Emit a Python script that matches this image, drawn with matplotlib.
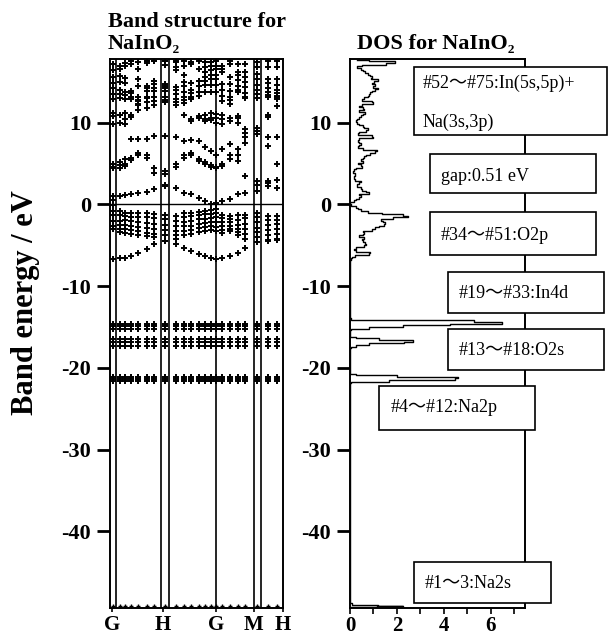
import numpy as np
import matplotlib
matplotlib.use('Agg')
import matplotlib.pyplot as plt
from matplotlib.patches import Rectangle

nan = float('nan')

# ---------------- data ----------------
k_points = [0.017, 0.058, 0.087, 0.121, 0.162, 0.214, 0.254, 0.318, 0.382, 0.428, 0.468,
            0.514, 0.549, 0.584, 0.613, 0.647, 0.694, 0.740, 0.780, 0.850, 0.913, 0.965]
k_labels = ['G', 'H', 'G', 'M', 'H']
k_label_pos = [0.012, 0.306, 0.613, 0.832, 1.0]
k_lines = [0.035, 0.295, 0.341, 0.613, 0.832, 0.873]

cb1 = [0.6, 1.0, 1.2, 1.3, 1.4, 1.5, 1.9, 2.3, 2.0, 1.4, 1.3, 0.8, 0.4, 0.1, 0.2, 0.45, 0.7, 1.3, 1.4, 1.6, 2.2, 2.0]
cb2 = [4.6, 4.8, 5.0, 5.7, 6.3, 6.0, 4.5, 4.1, 5.0, 6.0, 6.3, 5.6, 5.0, 4.8, 4.6, 5.0, 6.0, 6.0, 7.5, 8.6, 7.2, 5.0]
cb3 = [5.0, 5.2, 5.5, 8.0, 8.0, 8.0, 8.4, 8.4, 8.2, 7.8, 7.9, 7.8, 7.0, 6.5, 6.0, 6.8, 7.4, 6.8, 8.2, 9.0, 8.3, 8.2]
cb4 = [4.4, 4.5, 4.7, 5.4, 6.0, 5.7, 3.9, 3.7, 4.6, 5.7, 6.0, 5.3, 5.2, 4.6, 4.4, 4.7, 5.6, 5.3, 3.5, 2.9, 2.6, 3.0]
cb5 = [1.0, nan, nan, nan, nan, nan, nan, 2.4, nan, nan, nan, nan, nan, nan, nan, nan, nan, nan, nan, 2.4, 2.9, nan]

ub1 = [9.8, 10.0, 9.8, 10.7, 11.5, 11.8, 12.2, 12.5, 12.2, 11.0, 10.4, 10.8, 10.5, 10.3, 10.0, 9.8, 10.2, 10.0, 9.2, 9.0, 10.9, 12.1]
ub2 = [10.8, 11.0, 10.5, 10.9, 12.3, 12.5, 12.6, 12.8, 12.5, 12.4, 10.2, 10.6, 10.2, 10.6, 10.6, 10.4, 10.6, 10.6, 8.8, 9.3, 10.7, 12.9]
ub3 = [11.2, 11.0, 11.2, 12.9, 12.6, 13.0, 13.2, 13.2, 12.9, 12.8, 12.9, 13.3, 11.0, 11.2, 11.1, 11.0, 12.3, 10.8, 13.0, 13.0, 13.1, 13.2]
ub4 = [12.9, 13.0, 12.9, 13.2, 13.1, 13.9, 13.9, 13.9, 13.5, 13.2, 13.2, 13.8, 13.8, 13.8, 13.7, 12.6, 12.8, 13.8, 13.2, 13.5, 13.4, 13.3]
ub5 = [13.5, 13.5, 13.4, 13.6, 12.2, 14.5, 14.2, 14.2, 14.0, 13.7, 13.6, 14.5, 14.6, 14.6, 14.6, 13.3, 13.1, 14.0, 13.6, 14.0, 13.8, 13.6]
ub6 = [14.2, 14.0, 13.8, 13.9, 12.8, 13.2, 14.7, 14.7, 14.4, 14.5, 14.0, 15.1, 15.1, 15.3, 15.4, 14.0, 13.9, 14.5, 14.4, 14.6, 14.3, 14.0]
ub7 = [14.9, 15.0, 14.9, 17.2, 14.5, 14.2, 15.1, 14.5, 16.4, 15.0, 14.9, 14.5, 15.6, 15.8, 15.8, 14.7, 14.8, 15.2, 15.0, 15.3, 14.9, 14.6]
ub8 = [15.6, 15.7, 15.5, 17.6, 15.4, 17.3, 15.1, 17.1, 16.8, 15.8, 14.9, 15.1, 16.2, 16.4, 16.6, 16.2, 15.6, 15.8, 15.6, 16.0, 15.4, 15.4]
ub9 = [16.4, 16.6, 16.9, 17.6, 16.6, 17.6, 17.6, 17.5, 17.4, 17.0, 17.2, 16.6, 16.8, 16.9, 17.0, 16.6, 17.2, 16.2, 16.2, 16.8, 16.8, 16.8]
ub10 = [17.2, 17.0, 17.3, 17.6, 17.4, 17.6, 17.6, 17.6, 17.6, 17.6, 17.4, 17.6, 17.4, 17.4, 17.5, 17.0, 17.6, 17.2, 17.2, 17.4, 17.6, 17.6]

vb1 = [-0.1, -0.8, -1.0, -1.0, -1.0, -1.0, -1.2, -1.3, -1.4, -1.1, -1.0, -0.9, -0.8, -0.7, -0.5, -1.3, -1.4, -1.3, -1.3, -1.1, -1.4, -1.4]
vb2 = [-0.8, -1.3, -1.4, -1.5, -1.6, -1.5, -1.7, -1.8, -2.0, -1.5, -1.4, -1.3, -1.2, -1.2, -1.0, -1.7, -1.8, -1.9, -1.7, -1.6, -1.9, -1.9]
vb3 = [-1.3, -2.0, -1.9, -2.0, -2.2, -2.3, -2.4, -2.5, -2.6, -2.2, -2.0, -1.8, -1.8, -1.7, -1.6, -2.2, -2.2, -2.5, -2.4, -2.2, -2.5, -2.4]
vb4 = [-2.0, -2.5, -2.5, -2.6, -2.8, -2.9, -3.0, -3.1, -3.2, -2.7, -2.6, -2.4, -2.3, -2.2, -2.2, -2.7, -2.6, -3.0, -3.0, -2.9, -3.1, -3.0]
vb5 = [-2.6, -3.0, -3.0, -3.1, -3.3, -3.5, -3.6, -3.7, -3.8, -3.3, -3.1, -2.9, -2.8, -2.7, -2.8, -3.1, -3.0, -3.4, -3.6, -3.4, -3.7, -3.6]
vb6 = [-3.0, -3.4, -3.5, -3.6, -3.8, -3.9, -4.0, -4.5, -4.2, -3.8, -3.6, -3.4, -3.2, -3.1, -3.2, -3.5, -3.3, -3.8, -4.2, -4.0, -4.3, -4.2]
vb7 = [-6.7, -6.6, -6.5, -6.3, -6.0, -5.5, -4.8, -4.5, -4.8, -5.3, -5.7, -6.1, -6.3, -6.5, -6.7, -6.5, -6.3, -5.9, -5.3, -4.6, -4.5, -4.3]

core_levels = [-14.6, -14.9, -15.2, -16.5, -16.9, -17.3, -21.1, -21.4, -21.6]
na2s_level = -49.2

dos_energy = [17.7, 17.5, 17.3, 17.1, 16.9, 16.7, 16.5, 16.3, 16.1, 15.9, 15.7, 15.5, 15.3, 15.1,
              14.9, 14.7, 14.5, 14.3, 14.1, 13.9, 13.7, 13.5, 13.3, 13.1, 12.9, 12.7, 12.5, 12.3,
              12.1, 11.9, 11.7, 11.5, 11.3, 11.1, 10.9, 10.7, 10.5, 10.3, 10.1, 9.9, 9.7, 9.5,
              9.3, 9.1, 8.9, 8.7, 8.5, 8.3, 8.1, 7.9, 7.7, 7.5, 7.3, 7.1, 6.9, 6.7, 6.5, 6.3,
              6.1, 5.9, 5.7, 5.5, 5.3, 5.1, 4.9, 4.7, 4.5, 4.3, 4.1, 3.9, 3.7, 3.5, 3.3, 3.1,
              2.9, 2.7, 2.5, 2.3, 2.1, 1.9, 1.7, 1.5, 1.3, 1.1, 0.9, 0.7, 0.5, 0.3, 0.0,
              -0.2, -0.4, -0.6, -0.8, -1.0, -1.2, -1.4, -1.6, -1.8, -2.0, -2.2, -2.4, -2.6,
              -2.8, -3.0, -3.2, -3.4, -3.6, -3.8, -4.0, -4.2, -4.4, -4.6, -4.8, -5.0, -5.2,
              -5.4, -5.6, -5.8, -6.0, -6.2, -6.4, -6.6, -6.8,
              -13.9, -14.1, -14.2, -14.4, -14.6, -14.8, -15.0, -15.2, -15.4,
              -16.2, -16.4, -16.6, -16.8, -17.0, -17.2, -17.4, -17.6,
              -20.7, -20.9, -21.1, -21.3, -21.5, -21.7, -21.9,
              -48.8, -49.0, -49.1, -49.2, -49.3]
dos_value = [0.3, 1.3, 2.5, 0.6, 0.4, 0.2, 0.7, 0.4, 0.9, 0.6, 1.1, 0.8, 1.0, 1.35,
             0.7, 1.2, 0.9, 1.1, 1.3, 0.8, 1.1, 0.6, 1.0, 0.5, 0.7, 0.3, 1.6, 0.4,
             0.6, 0.2, 0.9, 0.3, 0.5, 0.8, 0.3, 0.6, 0.2, 0.4, 0.1, 0.5, 0.3, 0.8,
             0.4, 1.1, 0.3, 0.5, 0.2, 1.7, 0.3, 0.5, 0.2, 0.6, 0.3, 0.5, 0.2, 0.9, 1.4, 0.7,
             1.0, 0.4, 0.8, 0.3, 0.6, 0.5, 0.2, 0.7, 0.3, 0.2, 0.1, 0.15, 0.3, 0.1, 0.2, 0.1,
             0.3, 0.6, 0.2, 0.4, 0.2, 0.7, 0.3, 1.1, 0.5, 0.3, 0.6, 0.2, 0.3, 0.0, 0.0,
             0.1, 0.4, 0.3, 0.6, 0.9, 1.8, 2.7, 2.2, 1.5, 1.1, 1.7, 1.3, 1.6,
             0.9, 1.2, 0.7, 0.4, 0.8, 0.3, 0.5, 0.7, 0.3, 0.8, 0.5, 0.9, 0.3,
             0.2, 0.1, 0.4, 1.3, 0.3, 0.1, 0.05, 0.0,
             0.0, 0.1, 3.2, 7.4, 5.5, 3.0, 1.5, 0.1, 0.0,
             0.0, 0.5, 2.0, 3.4, 1.2, 0.4, 0.1, 0.0,
             0.0, 0.5, 3.5, 5.7, 3.2, 0.1, 0.0,
             0.0, 0.2, 2.2, 2.3, 0.0]

box_texts = [['#52～#75:In(5s,5p)+', 'Na(3s,3p)'], ['gap:0.51 eV'], ['#34～#51:O2p'],
             ['#19～#33:In4d'], ['#13～#18:O2s'], ['#4～#12:Na2p'], ['#1～3:Na2s']]

y_ticks = [10, 0, -10, -20, -30, -40]
y_tick_labels = ['10', '0', '-10', '-20', '-30', '-40']
dos_ticks = [0, 1, 2, 3, 4, 5, 6, 7]
dos_tick_labels = ['0', '', '2', '', '4', '', '6', '']

# ---------------- layout ----------------
W, H = 610, 637
plt.rcParams['font.family'] = ['Liberation Serif', 'DejaVu Serif']
fig = plt.figure(figsize=(W / 100, H / 100), dpi=100)

def fx(px):
    return px / W

def fy(py):
    return 1 - py / H

ax1 = fig.add_axes([fx(110), fy(608), fx(283) - fx(110), fy(59) - fy(608)])
ax2 = fig.add_axes([fx(350), fy(608), fx(525) - fx(350), fy(59) - fy(608)])

ylim = (-49.4, 17.8)
tick_font = dict(fontsize=16, fontweight='bold')

# band structure panel
bands = [cb1, cb2, cb3, cb4, cb5, ub1, ub2, ub3, ub4, ub5, ub6, ub7, ub8, ub9, ub10,
         vb1, vb2, vb3, vb4, vb5, vb6, vb7]
for b in bands:
    ax1.plot(k_points, b, linestyle='none', marker='+', color='k', ms=5, mew=1.4)
for lev in core_levels:
    ax1.plot(k_points, [lev] * len(k_points), linestyle='none', marker='+', color='k', ms=5, mew=1.4)
ax1.plot(k_points, [na2s_level] * len(k_points), linestyle='none', marker='+', color='k', ms=2.5, mew=1.0)
for xl in k_lines:
    ax1.axvline(xl, color='k', lw=1.2)
ax1.axhline(0, color='k', lw=1.0)
ax1.set_xlim(0, 1)
ax1.set_ylim(*ylim)
ax1.set_xticks(k_label_pos)
ax1.set_xticklabels(k_labels, fontsize=15, fontweight='bold')
ax1.tick_params(axis='x', direction='out', length=3, width=1.2, pad=2)

# DOS panel
ax2.plot(dos_value, dos_energy, color='k', lw=1.0, drawstyle='steps-mid')
ax2.set_xlim(0, 7.45)
ax2.set_ylim(*ylim)
ax2.set_xticks(dos_ticks)
ax2.set_xticklabels(dos_tick_labels, fontsize=15, fontweight='bold')
ax2.tick_params(axis='x', direction='out', length=4, width=1.2, pad=2)

for ax in (ax1, ax2):
    ax.set_yticks(y_ticks)
    ax.set_yticklabels(y_tick_labels, **tick_font)
    ax.tick_params(axis='y', direction='out', length=9.5, width=2.0, pad=4)
    for s in ax.spines.values():
        s.set_linewidth(1.4)
        s.set_color('k')

# titles and axis label
title_font = dict(fontsize=16, fontweight='bold', family=['Liberation Serif', 'DejaVu Serif'])
fig.text(fx(108), fy(27), 'Band structure for', va='baseline', ha='left', **title_font)
fig.text(fx(108), fy(49), 'NaInO₂', va='baseline', ha='left', **title_font)
fig.text(fx(357), fy(49), 'DOS for NaInO₂', va='baseline', ha='left', **title_font)
fig.text(fx(26), fy(303), 'Band energy / eV', rotation=90, ha='center', va='center',
         fontsize=22, fontweight='bold')

# annotation boxes
box_px = [(414, 67, 607, 135), (430, 154, 596, 193), (430, 212, 596, 255),
          (448, 272, 604, 313), (448, 329, 604, 370), (379, 386, 535, 430),
          (414, 562, 551, 603)]
text_px = [[(423, 83), (423, 122)], [(441, 177)], [(441, 235)], [(459, 293)],
           [(459, 351)], [(391, 408)], [(425, 584)]]
for (x0, y0, x1, y1), lines, pos in zip(box_px, box_texts, text_px):
    r = Rectangle((fx(x0), fy(y1)), fx(x1) - fx(x0), fy(y0) - fy(y1),
                  transform=fig.transFigure, facecolor='white', edgecolor='k',
                  lw=1.2, zorder=10)
    fig.add_artist(r)
    for line, (tx, ty) in zip(lines, pos):
        t = fig.text(fx(tx), fy(ty), line, ha='left', va='center', fontsize=13,
                     family=['Liberation Serif', 'Noto Sans CJK JP', 'DejaVu Sans'])
        t.set_zorder(11)

fig.savefig('out.png', dpi=100)
